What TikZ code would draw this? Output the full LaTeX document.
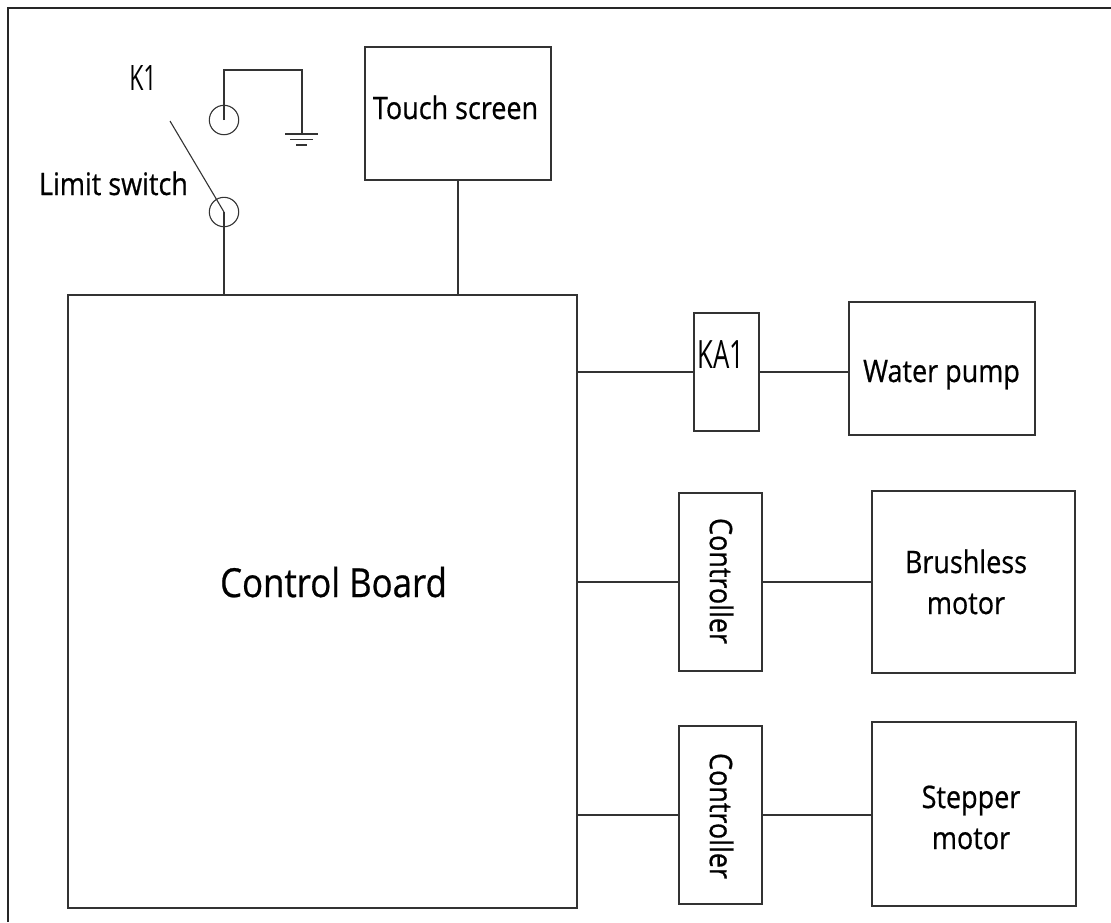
\documentclass[tikz,border=0pt]{standalone}
\usepackage{fontspec}
\setmainfont{Open Sans}[FakeStretch=0.87, FakeBold=0.6]
\newfontfamily\narrowfont{Open Sans}[FakeStretch=0.66]
\begin{document}
\begin{tikzpicture}[x=1pt,y=-1pt,
  wire/.style={draw=black!80, line width=1.1pt},
  box/.style={draw=black!80, line width=1.2pt, rectangle, inner sep=0pt},
  term/.style={draw=black!80, line width=1.1pt, circle, inner sep=0pt, minimum size=29.4pt},
  lbl/.style={font=\fontsize{31}{41}\selectfont, anchor=base, inner sep=0pt, align=center},
  tag/.style={font=\narrowfont\fontsize{37}{40}\selectfont, anchor=base, inner sep=0pt}]
\useasboundingbox (0,0) rectangle (1111,922);
% frame
\draw[black!85, line width=1.5pt] (8,922) -- (8,8) -- (1111,8);
% boxes
\node[box, minimum width=186pt, minimum height=133pt] (touch) at (458,113.5) {};
\node[box, minimum width=509pt, minimum height=613pt] (board) at (322.5,601.5) {};
\node[box, minimum width=65pt, minimum height=118pt] (ka1) at (726.5,372) {};
\node[box, minimum width=186pt, minimum height=133pt] (pump) at (942,368.5) {};
\node[box, minimum width=83pt, minimum height=178pt] (ctrlA) at (720.5,582) {};
\node[box, minimum width=203pt, minimum height=182pt] (brush) at (973.5,582) {};
\node[box, minimum width=83pt, minimum height=178pt] (ctrlB) at (720.5,815) {};
\node[box, minimum width=204pt, minimum height=184pt] (step) at (974,814) {};
% switch terminals
\node[term] (c1) at (224,120) {};
\node[term] (c2) at (224,212) {};
\coordinate (gwa) at (224,70);
\coordinate (gwb) at (302,70);
\coordinate (gnd) at (302,134);
\coordinate (blade) at (170,121);
% texts
\node[tag, font=\narrowfont\fontsize{35}{40}\selectfont] (k1t) at (143,90) {K1};
\node[lbl] (lst) at (113.5,195) {Limit switch};
\node[lbl] (tst) at (455.5,119) {Touch screen};
\node[lbl, font=\fontsize{40}{48}\selectfont] (cbt) at (333.5,597) {Control Board};
\node[tag, font=\narrowfont\fontsize{39}{40}\selectfont] (kat) at (721,368) {KA1};
\node[lbl] (wpt) at (941.5,382) {Water pump};
\node[lbl, anchor=center, rotate=-90] (cat) at (721.5,581) {Controller};
\node[lbl, anchor=center, rotate=-90] (cbt2) at (721.5,816) {Controller};
\node[lbl] (bmt) at (966,614) {Brushless\\motor};
\node[lbl] (smt) at (971,849) {Stepper\\motor};
% wires
\draw[wire] (c1.center) -- (gwa) -- (gwb) -- (gnd);
\draw[wire] (285,134) -- (318,134);
\draw[wire] (290,139.5) -- (313,139.5);
\draw[wire] (296,145) -- (307,145);
\draw[wire] (blade) -- (c2.center);
\draw[wire] (c2.center) -- (c2.center |- board.north);
\draw[wire] (touch.south) -- (touch.south |- board.north);
\draw[wire] (ka1.west -| board.east) -- (ka1.west);
\draw[wire] (ka1.east) -- (ka1.east -| pump.west);
\draw[wire] (ctrlA.west -| board.east) -- (ctrlA.west);
\draw[wire] (ctrlA.east) -- (ctrlA.east -| brush.west);
\draw[wire] (ctrlB.west -| board.east) -- (ctrlB.west);
\draw[wire] (ctrlB.east) -- (ctrlB.east -| step.west);
\end{tikzpicture}
\end{document}
